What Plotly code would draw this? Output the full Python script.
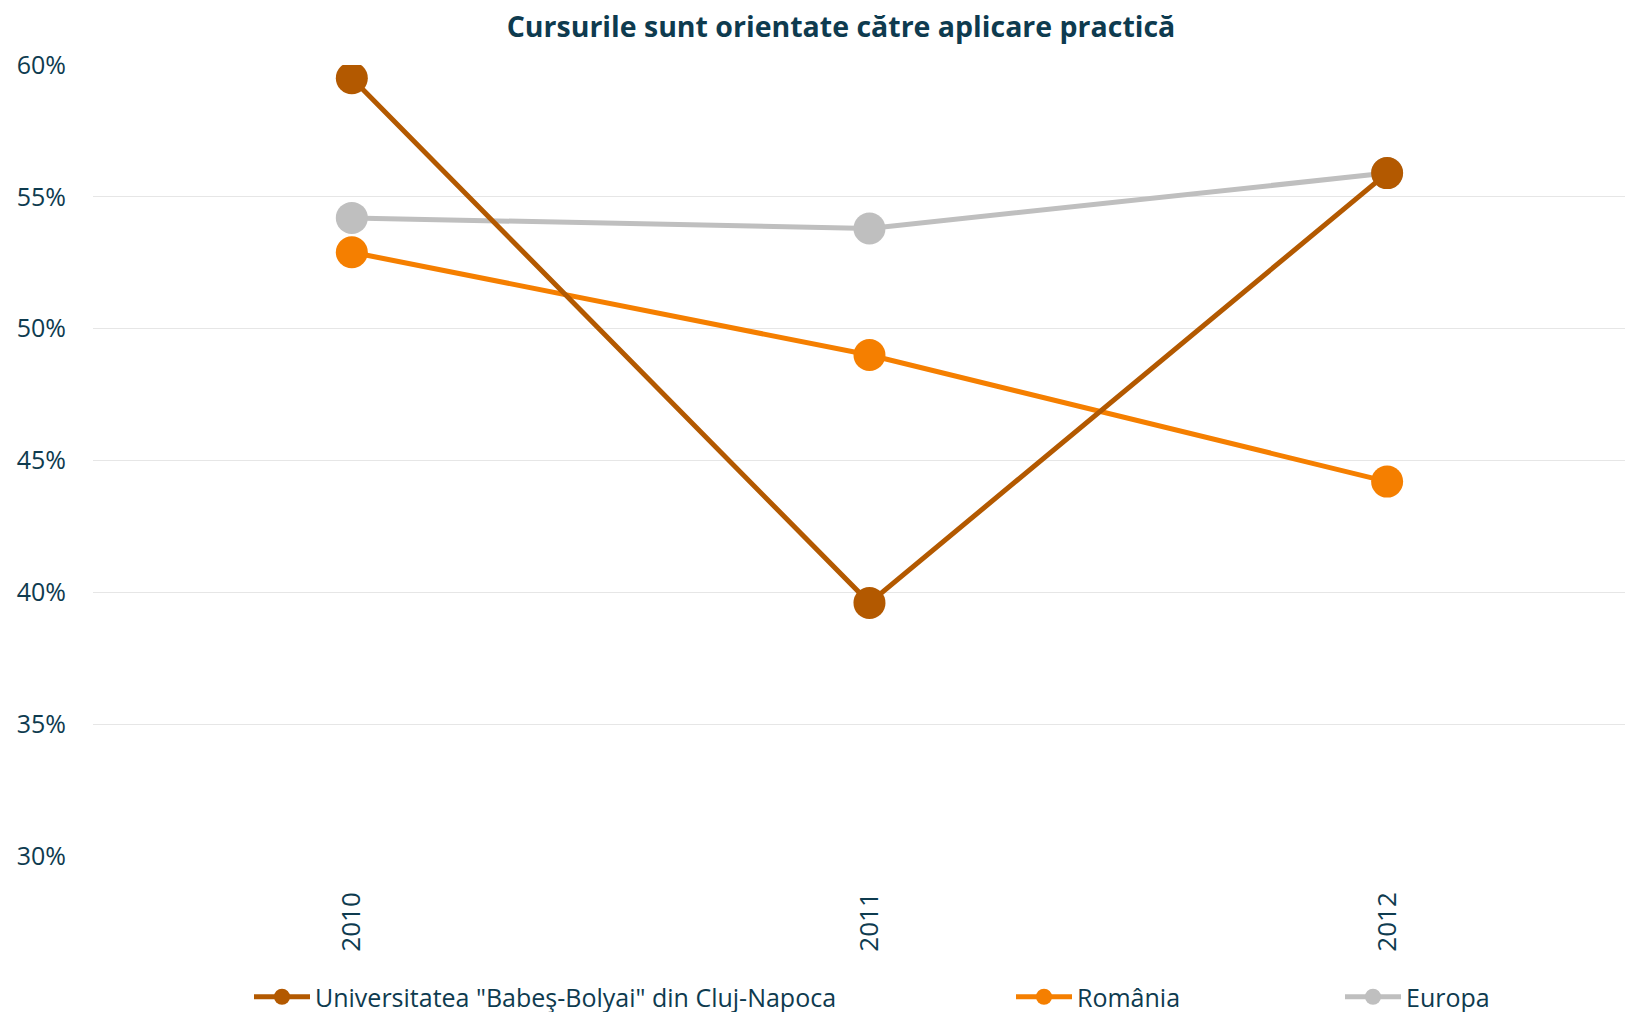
import plotly.graph_objects as go

years = ["2010", "2011", "2012"]
ubb = [59.5, 39.6, 55.9]
romania = [52.9, 49.0, 44.2]
europa = [54.2, 53.8, 55.9]
y_ticks = [30, 35, 40, 45, 50, 55, 60]
y_tick_labels = ["30%", "35%", "40%", "45%", "50%", "55%", "60%"]

names = ['Universitatea "Babeş-Bolyai" din Cluj-Napoca', "România", "Europa"]
colors = ["#B35900", "#F57F00", "#BFBFBF"]
series = [ubb, romania, europa]
legend_ids = ["legend2", "legend3", "legend4"]

TXT = "#0E3B4F"
FONT = "Open Sans"

fig = go.Figure()
# draw in reverse so the first series sits on top
for name, vals, col, lg in reversed(list(zip(names, series, colors, legend_ids))):
    fig.add_trace(go.Scatter(
        x=years, y=vals, name=name, mode="lines+markers",
        line=dict(color=col, width=5),
        marker=dict(color=col, size=32),
        legend=lg,
    ))

W, H = 1625, 1004
leg_common = dict(orientation="h", xref="container", yref="container",
                  yanchor="middle", xanchor="left", y=1 - 989 / H,
                  itemwidth=56,
                  font=dict(family=FONT, size=25, color=TXT),
                  bgcolor="rgba(0,0,0,0)")

fig.update_layout(
    width=W, height=H,
    paper_bgcolor="white", plot_bgcolor="white",
    margin=dict(l=85, r=0, t=57, b=156, autoexpand=False),
    title=dict(text="<b>Cursurile sunt orientate către aplicare practică</b>",
               x=833 / W, xref="container", xanchor="center",
               y=1 - 19 / H, yref="container", yanchor="middle",
               font=dict(family=FONT, size=28.5, color=TXT)),
    xaxis=dict(type="category", range=[-0.5, 2.475], showgrid=False,
               zeroline=False, showline=False, ticks="",
               tickangle=-90, ticklabelstandoff=30,
               tickfont=dict(family=FONT, size=26, color=TXT)),
    yaxis=dict(range=[30, 60], tickvals=y_ticks, ticktext=y_tick_labels,
               showgrid=True, gridcolor="#E6E6E6", gridwidth=1,
               zeroline=False, showline=False, ticks="",
               ticklabelstandoff=26,
               tickfont=dict(family=FONT, size=25, color=TXT)),
    legend2=dict(x=241 / W, **leg_common),
    legend3=dict(x=1003 / W, **leg_common),
    legend4=dict(x=1332 / W, **leg_common),
)

fig.write_html("out.html")
